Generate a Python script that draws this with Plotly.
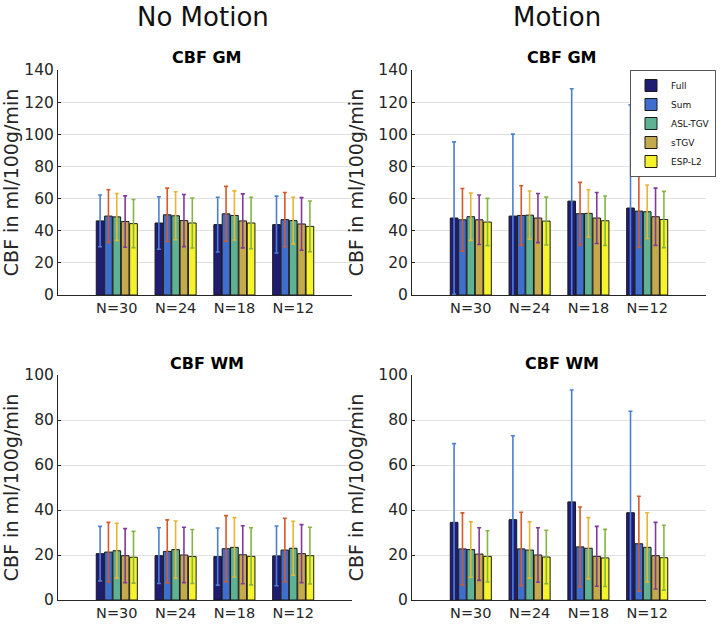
import plotly.graph_objects as go

categories = ["N=30", "N=24", "N=18", "N=12"]
methods = ["Full", "Sum", "ASL-TGV", "sTGV", "ESP-L2"]

# CBF GM, no motion: means and SD per method (rows) over categories
gm_nomotion_mean = [
    [46.1, 44.8, 43.8, 43.8],
    [49.1, 49.9, 50.5, 46.9],
    [48.6, 49.3, 49.5, 46.3],
    [45.7, 46.3, 46.1, 44.2],
    [44.4, 44.8, 44.8, 42.7],
]
gm_nomotion_sd = [
    [16.1, 16.3, 17.0, 17.7],
    [16.4, 16.6, 17.1, 16.9],
    [14.6, 14.9, 15.3, 14.5],
    [16.0, 16.2, 16.8, 16.4],
    [15.0, 15.6, 16.0, 15.8],
]
# CBF GM, motion
gm_motion_mean = [
    [47.9, 49.1, 58.4, 54.1],
    [46.8, 49.5, 50.6, 52.2],
    [48.7, 49.7, 50.8, 51.8],
    [46.8, 47.9, 47.9, 48.7],
    [45.4, 46.0, 46.2, 47.0],
]
gm_motion_sd = [
    [47.4, 51.0, 69.9, 64.2],
    [19.5, 18.5, 19.5, 22.6],
    [14.7, 15.0, 14.7, 16.6],
    [15.4, 15.3, 15.9, 17.8],
    [14.7, 14.9, 15.4, 17.5],
]
# CBF WM, no motion
wm_nomotion_mean = [
    [20.6, 19.7, 19.3, 19.6],
    [21.3, 21.6, 22.8, 22.2],
    [21.9, 22.4, 23.4, 23.0],
    [19.7, 20.0, 20.1, 20.6],
    [19.0, 19.3, 19.4, 19.7],
]
wm_nomotion_sd = [
    [12.1, 12.4, 12.7, 13.3],
    [13.2, 14.0, 14.7, 14.1],
    [12.2, 12.7, 13.2, 12.0],
    [12.0, 12.3, 12.9, 12.9],
    [11.5, 12.0, 12.7, 12.6],
]
# CBF WM, motion
wm_motion_mean = [
    [34.5, 35.7, 43.6, 38.8],
    [22.7, 22.7, 23.6, 25.0],
    [22.4, 22.2, 23.0, 23.4],
    [20.4, 20.0, 19.4, 19.7],
    [19.4, 19.1, 18.7, 18.8],
]
wm_motion_sd = [
    [35.0, 37.3, 49.7, 45.1],
    [16.0, 16.3, 17.7, 21.1],
    [12.3, 12.5, 13.6, 15.4],
    [11.7, 12.1, 13.3, 14.8],
    [11.4, 11.9, 12.7, 14.4],
]

bar_colors = ["#201b73", "#3f6ece", "#5eb192", "#c5aa4d", "#f5f42c"]
err_colors = ["#4a80d4", "#d35a2a", "#e9b534", "#80399a", "#86b444"]

W, H = 722, 628
def xd(a, b):
    return [a / W, b / W]
def yd(top, bottom):
    return [1 - bottom / H, 1 - top / H]

panels = [
    (gm_nomotion_mean, gm_nomotion_sd, "x", "y", xd(58, 352), yd(70, 295), 140, 20),
    (gm_motion_mean, gm_motion_sd, "x2", "y2", xd(412, 706), yd(70, 295), 140, 20),
    (wm_nomotion_mean, wm_nomotion_sd, "x3", "y3", xd(58, 352), yd(375, 600), 100, 20),
    (wm_motion_mean, wm_motion_sd, "x4", "y4", xd(412, 706), yd(375, 600), 100, 20),
]

fig = go.Figure()
font_family = "DejaVu Sans"
axis_col = "#262626"

layout = dict(
    width=W, height=H,
    margin=dict(l=0, r=0, t=0, b=0, autoexpand=False),
    paper_bgcolor="white", plot_bgcolor="white",
    barmode="group", bargap=0.29, bargroupgap=0.08,
    font=dict(family=font_family, color=axis_col),
    showlegend=True,
    legend=dict(
        x=716 / W, xanchor="right", y=1 - 70 / H, yanchor="top",
        bgcolor="white", bordercolor="#555555", borderwidth=1,
        font=dict(size=9, color="#111111"), itemwidth=30,
        tracegroupgap=0,
    ),
)

for pi, (means, sds, xa, ya, xdom, ydom, ymax, dtick) in enumerate(panels):
    for mi, m in enumerate(methods):
        fig.add_trace(go.Bar(
            x=categories, y=means[mi], name=m,
            xaxis=xa, yaxis=ya,
            marker=dict(color=bar_colors[mi], line=dict(color="#1a1a1a", width=1)),
            error_y=dict(type="data", array=sds[mi], symmetric=True,
                         color=err_colors[mi], thickness=1.6, width=2),
            showlegend=(pi == 1), legendgroup=m,
        ))
    xkey = "xaxis" + ("" if xa == "x" else xa[1:])
    ykey = "yaxis" + ("" if ya == "y" else ya[1:])
    layout[xkey] = dict(
        domain=xdom, anchor=ya, type="category", range=[-1, 4],
        showline=True, linecolor=axis_col, linewidth=1, automargin=False,
        ticks="", showgrid=False, tickfont=dict(size=14.5, color=axis_col),
    )
    layout[ykey] = dict(
        domain=ydom, anchor=xa, range=[0, ymax], dtick=dtick, automargin=False,
        showline=True, linecolor=axis_col, linewidth=1,
        ticks="inside", ticklen=3, tickcolor=axis_col,
        showgrid=True, gridcolor="#e1e1e1", gridwidth=1,
        zeroline=False, tickfont=dict(size=15.5, color=axis_col),
        title=dict(text="CBF in ml/100g/min", font=dict(size=19, color=axis_col), standoff=9),
    )

def ann(text, x, y, size, color):
    return dict(text=text, x=x / W, y=1 - y / H, xref="paper", yref="paper",
                xanchor="center", yanchor="middle", showarrow=False,
                font=dict(size=size, color=color))

layout["annotations"] = [
    ann("No Motion", 203, 17, 26, "#111111"),
    ann("Motion", 557, 17, 26, "#111111"),
    ann("<b>CBF GM</b>", 207, 57, 16, "#000000"),
    ann("<b>CBF GM</b>", 562, 57, 16, "#000000"),
    ann("<b>CBF WM</b>", 207, 363, 16, "#000000"),
    ann("<b>CBF WM</b>", 562, 363, 16, "#000000"),
]

fig.update_layout(**layout)
# remove the browser's default 8px body margin so the figure fills the window
fig.write_html("out.html", config={"displayModeBar": False},
               post_script="document.body.style.margin='0';")
